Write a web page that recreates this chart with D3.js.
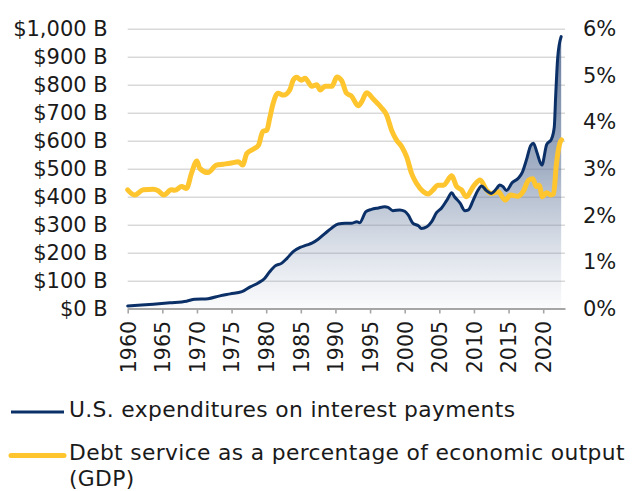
<!DOCTYPE html>
<html><head><meta charset="utf-8">
<script src="https://cdn.jsdelivr.net/npm/d3@7"></script>
<style>
html,body{margin:0;padding:0;background:#fff;}
svg{display:block;font-family:"DejaVu Sans",sans-serif;}
</style>
</head><body>
<svg id="chart" width="632" height="491"></svg>
<script>
// ---- Data ----
const interestYears = [1960,1962,1963.7,1966.1,1968.5,1969.7,1971.6,1973.3,1974.8,1976.5,1977.7,1978.9,1979.8,1980.5,1981.3,1982.2,1983,1983.9,1984.9,1985.8,1986.6,1987.5,1988.5,1989.4,1990.4,1991.4,1992.3,1993.1,1993.5,1994.4,1995.2,1996.2,1997.1,1997.6,1998.3,1999.3,2000,2000.5,2001.2,2002,2002.4,2003.2,2003.9,2004.6,2005.3,2006.1,2006.8,2007.2,2008,2008.7,2009.2,2009.9,2010.6,2011.1,2011.8,2012.5,2013.3,2013.7,2014.2,2014.7,2015.5,2016.4,2017,2017.6,2018.2,2018.6,2019.1,2019.8,2020.5,2021.2,2021.6,2021.8,2022.1,2022.6];
const interestBillions = [12,15,18,23,29,36,38,48,55,63,80,95,111,134,155,164,182,206,221,229,236,250,271,289,305,307,307,313,309,349,357,362,366,364,352,355,350,337,307,298,289,295,313,345,361,390,416,402,379,352,355,390,426,440,424,414,432,444,438,424,452,468,490,535,585,593,560,515,588,608,650,760,900,974];

const debtYears = [1960,1961,1962.25,1963.7,1964.4,1965.2,1966.3,1966.8,1967.8,1968.5,1969.2,1970,1970.4,1971.6,1972.8,1973.8,1974.8,1976,1976.6,1977.2,1978.1,1978.9,1979.5,1980.1,1980.5,1981,1981.7,1982.5,1983.4,1983.9,1984.4,1985.1,1985.6,1986.6,1987.3,1987.8,1988.5,1989.5,1990.2,1990.9,1991.6,1992.3,1993.3,1993.8,1994.5,1995.5,1996.7,1997.4,1998.1,1998.8,1999.6,2000.3,2001,2001.7,2002.7,2003.4,2004.1,2004.8,2005.6,2006.8,2007.5,2008.2,2008.9,2009.9,2010.9,2011.8,2012.5,2013.5,2014.5,2015.3,2016.3,2017.1,2017.9,2018.5,2019,2019.4,2019.9,2020.5,2021.1,2021.5,2021.9,2022.4,2022.65];
const debtPct = [2.56,2.45,2.56,2.57,2.54,2.45,2.56,2.55,2.63,2.59,2.91,3.18,3.02,2.93,3.09,3.11,3.13,3.16,3.09,3.34,3.43,3.52,3.81,3.84,4.09,4.41,4.63,4.59,4.70,4.91,4.97,4.91,4.95,4.78,4.81,4.70,4.78,4.78,4.98,4.90,4.63,4.57,4.36,4.45,4.64,4.50,4.31,4.16,3.84,3.63,3.48,3.26,2.91,2.70,2.52,2.47,2.56,2.66,2.66,2.86,2.63,2.56,2.41,2.63,2.77,2.56,2.48,2.52,2.34,2.45,2.42,2.52,2.77,2.80,2.63,2.66,2.41,2.50,2.45,2.47,3.10,3.56,3.63];

const xTickYears = [1960,1965,1970,1975,1980,1985,1990,1995,2000,2005,2010,2015,2020];
const leftTicks = [0,100,200,300,400,500,600,700,800,900,1000];
const rightTicks = [0,1,2,3,4,5,6];
const legendLabels = ["U.S. expenditures on interest payments", "Debt service as a percentage of economic output", "(GDP)"];

// ---- Styles ----
const BLUE = "#0b3068", GOLD = "#fec52e", GRID = "#d9d9d9", AXIS = "#a6a6a6", TEXT = "#1a1a1a";

const svg = d3.select("#chart");
const x = d3.scaleLinear().domain([1960, 2023.15]).range([127.7, 565]);
const yL = d3.scaleLinear().domain([0, 1000]).range([309.3, 29.3]);
const yR = d3.scaleLinear().domain([0, 6]).range([309.3, 29.3]);

// gradient
const defs = svg.append("defs");
const grad = defs.append("linearGradient").attr("id","areaGrad")
  .attr("gradientUnits","userSpaceOnUse")
  .attr("x1",0).attr("x2",0).attr("y1", yL(d3.max(interestBillions))).attr("y2", yL(0));
grad.append("stop").attr("offset","0").attr("stop-color","#4a6289").attr("stop-opacity",0.85);
grad.append("stop").attr("offset","0.5").attr("stop-color","#5c7398").attr("stop-opacity",0.55);
grad.append("stop").attr("offset","1").attr("stop-color","#8c9cb8").attr("stop-opacity",0.04);

// gridlines
svg.append("g").selectAll("line").data(leftTicks.filter(d => d > 0)).join("line")
  .attr("x1", x.range()[0]).attr("x2", x.range()[1])
  .attr("y1", d => yL(d)).attr("y2", d => yL(d))
  .attr("stroke", GRID).attr("stroke-width", 1.6);

const interestData = d3.zip(interestYears, interestBillions);
const debtData = d3.zip(debtYears, debtPct);

// area
svg.append("path").datum(interestData)
  .attr("fill","url(#areaGrad)")
  .attr("d", d3.area().x(d => x(d[0])).y0(yL(0)).y1(d => yL(d[1])).curve(d3.curveMonotoneX));

// bottom axis
const xAxis = svg.append("g").attr("transform","translate(0,308.5)")
  .call(d3.axisBottom(x).tickValues(xTickYears).tickFormat(d3.format("d")).tickSizeInner(5).tickSizeOuter(0));
xAxis.select(".domain").attr("stroke", AXIS).attr("stroke-width", 2.2);
xAxis.selectAll(".tick line").attr("stroke", AXIS).attr("stroke-width", 1.6);
xAxis.selectAll(".tick text")
  .attr("transform","rotate(-90)")
  .attr("text-anchor","end")
  .attr("x", -12.5).attr("y", 0).attr("dy","0.36em")
  .attr("font-size", 20.5).attr("font-family","DejaVu Sans").attr("fill", TEXT);

// left axis
const leftAxis = svg.append("g").attr("transform", `translate(${x.range()[0]},0)`)
  .call(d3.axisLeft(yL).tickValues(leftTicks).tickSize(0).tickPadding(20)
    .tickFormat(d => "$" + d3.format(",")(d) + " B"));
leftAxis.select(".domain").remove();
leftAxis.selectAll("text").attr("font-size", 21).attr("font-family","DejaVu Sans").attr("fill", TEXT).attr("dy","0.3em");

// right axis
const rightAxis = svg.append("g").attr("transform", `translate(${x.range()[1]},0)`)
  .call(d3.axisRight(yR).tickValues(rightTicks).tickSize(0).tickPadding(18).tickFormat(d => d + "%"));
rightAxis.select(".domain").remove();
rightAxis.selectAll("text").attr("font-size", 21).attr("font-family","DejaVu Sans").attr("fill", TEXT).attr("dy","0.3em");

// lines
svg.append("path").datum(debtData)
  .attr("fill","none").attr("stroke", GOLD).attr("stroke-width", 5).attr("stroke-linejoin","round").attr("stroke-linecap","round")
  .attr("d", d3.line().x(d => x(d[0])).y(d => yR(d[1])).curve(d3.curveMonotoneX));
svg.append("path").datum(interestData)
  .attr("fill","none").attr("stroke", BLUE).attr("stroke-width", 3).attr("stroke-linejoin","round").attr("stroke-linecap","round")
  .attr("d", d3.line().x(d => x(d[0])).y(d => yL(d[1])).curve(d3.curveMonotoneX));

// legend
const lg = svg.append("g").attr("font-family","DejaVu Sans").attr("font-size", 21.8)
  .attr("letter-spacing", 0.35).attr("fill", TEXT);
lg.append("line").attr("x1", 11).attr("x2", 64).attr("y1", 412).attr("y2", 412).attr("stroke", BLUE).attr("stroke-width", 3);
lg.append("text").attr("x", 69).attr("y", 416.5).text(legendLabels[0]);
lg.append("line").attr("x1", 11).attr("x2", 64).attr("y1", 455.5).attr("y2", 455.5).attr("stroke", GOLD).attr("stroke-width", 5).attr("stroke-linecap","round");
lg.append("text").attr("x", 69).attr("y", 460).text(legendLabels[1]);
lg.append("text").attr("x", 69).attr("y", 485.8).text(legendLabels[2]);
</script>
</body></html>
